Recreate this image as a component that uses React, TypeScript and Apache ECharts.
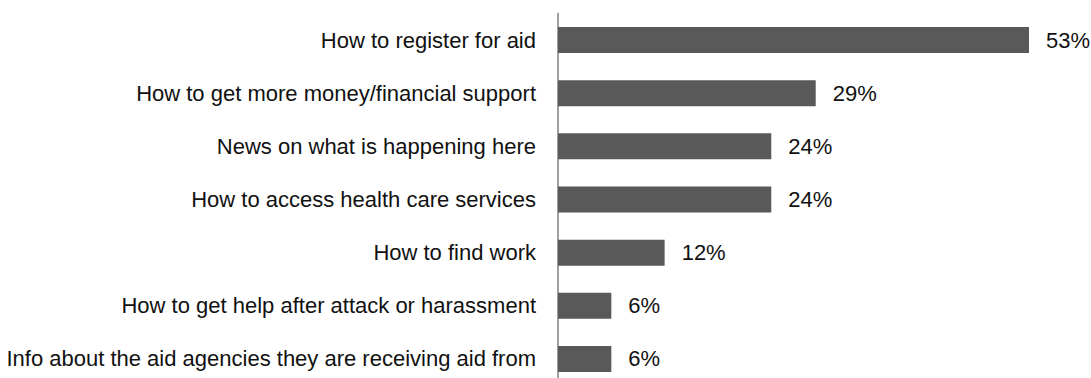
import React, { useEffect, useRef } from "react";
import * as echarts from "echarts";

const categories = [
  "How to register for aid",
  "How to get more money/financial support",
  "News on what is happening here",
  "How to access health care services",
  "How to find work",
  "How to get help after attack or harassment",
  "Info about the aid agencies they are receiving aid from",
];
const values = [53, 29, 24, 24, 12, 6, 6];

const FONT = "'Liberation Sans', Arial, sans-serif";

export default function App() {
  const ref = useRef<HTMLDivElement>(null);
  useEffect(() => {
    const chart = echarts.init(ref.current!, null, { renderer: "svg" });
    chart.setOption({
      animation: false,
      grid: { left: 558, right: 62, top: 13.5, height: 372 },
      xAxis: {
        type: "value",
        min: 0,
        max: 53,
        show: false,
      },
      yAxis: {
        type: "category",
        inverse: true,
        data: categories,
        axisLine: { show: true, lineStyle: { color: "#808080", width: 1.5 } },
        axisTick: { show: false },
        axisLabel: { color: "#111", fontSize: 22, fontFamily: FONT, margin: 22 },
      },
      series: [
        {
          type: "bar",
          data: values,
          barWidth: 26,
          itemStyle: { color: "#595959" },
          label: {
            show: true,
            position: "right",
            distance: 17,
            formatter: "{c}%",
            color: "#111",
            fontSize: 22,
            fontFamily: FONT,
          },
        },
      ],
    });
    return () => chart.dispose();
  }, []);
  return (
    <div style={{ position: "fixed", left: 0, top: 0, width: 1091, height: 378, overflow: "hidden", background: "#fff" }}>
      <div ref={ref} style={{ width: 1091, height: 400 }} />
    </div>
  );
}
